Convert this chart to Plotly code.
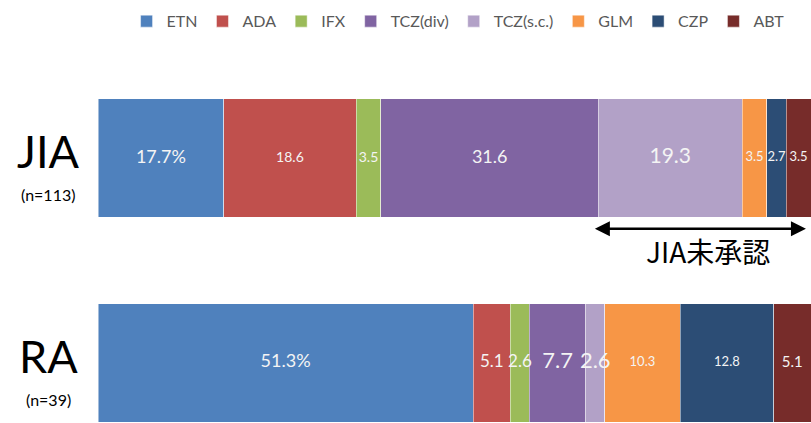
import plotly.graph_objects as go

groups = ["JIA", "RA"]
group_n = ["(n=113)", "(n=39)"]
drugs = ["ETN", "ADA", "IFX", "TCZ(div)", "TCZ(s.c.)", "GLM", "CZP", "ABT"]
# segment widths as drawn (percent of bar)
jia_values = [17.7, 18.6, 3.5, 30.6, 20.2, 3.5, 2.7, 3.5]
ra_values = [51.3, 5.1, 2.6, 7.7, 2.6, 10.3, 12.8, 5.1]
# labels as printed on the chart
jia_labels = ["17.7%", "18.6", "3.5", "31.6", "19.3", "3.5", "2.7", "3.5"]
ra_labels = ["51.3%", "5.1", "2.6", "7.7", "2.6", "10.3", "12.8", "5.1"]
colors = ["#4F81BD", "#C0504D", "#9BBB59", "#8064A2", "#B2A1C7", "#F79646", "#2C4D75", "#772C2A"]
jia_sizes = [18, 14, 14, 18, 21, 13, 13, 13]
ra_sizes = [18, 17, 17, 22, 22, 13, 13, 15]
y_pos = [1, 0]

fig = go.Figure()
for i, d in enumerate(drugs):
    fig.add_trace(go.Bar(
        name=d, orientation="h", y=y_pos, x=[jia_values[i], ra_values[i]],
        marker=dict(color=colors[i], line=dict(color="rgba(255,255,255,0.6)", width=0.8)),
        width=0.58, hoverinfo="skip",
    ))


def centers(vals):
    tot = sum(vals)
    out, acc = [], 0.0
    for v in vals:
        p = v / tot * 100
        out.append(acc + p / 2)
        acc += p
    return out


for vals, labels, sizes, yv in [(jia_values, jia_labels, jia_sizes, 1), (ra_values, ra_labels, ra_sizes, 0)]:
    fig.add_trace(go.Scatter(
        x=centers(vals), y=[yv] * len(vals), mode="text", text=labels,
        textposition="middle center", showlegend=False, hoverinfo="skip", cliponaxis=False,
        textfont=dict(color="#F4F4F4", size=sizes, family="Lato"),
    ))

fig.update_layout(
    barmode="stack", barnorm="percent",
    width=811, height=423, margin=dict(l=98, r=0, t=0, b=0),
    plot_bgcolor="white", paper_bgcolor="white",
    xaxis=dict(range=[0, 100], visible=False),
    yaxis=dict(range=[-0.293, 1.771], visible=False),
    legend=dict(orientation="h", x=0.505, xanchor="center", y=0.99, yanchor="top",
                font=dict(size=16, color="#595959", family="Lato"),
                itemwidth=30, tracegroupgap=0, traceorder="normal"),
    showlegend=True,
)

for yv, g, n in zip(y_pos, groups, group_n):
    fig.add_annotation(text=g, x=-0.07, xref="paper", y=yv + 0.035, yref="y",
                       showarrow=False, xanchor="center", yanchor="middle", borderpad=0,
                       font=dict(size=45, color="black", family="Lato"))
    fig.add_annotation(text=n, x=-0.07, xref="paper", y=yv - 0.178, yref="y",
                       showarrow=False, xanchor="center", yanchor="middle", borderpad=0,
                       font=dict(size=16, color="black", family="Lato"))

# Double-headed arrow for "JIA未承認"
arrow_start = sum(jia_values[:4]) / sum(jia_values) * 100
fig.add_annotation(x=arrow_start - 0.5, y=0.655, ax=99.5, ay=0.655,
                   xref="x", yref="y", axref="x", ayref="y",
                   showarrow=True, arrowhead=2, arrowside="end+start",
                   arrowsize=1.2, arrowwidth=2.5, arrowcolor="black", text="")
fig.add_annotation(text="JIA未承認", x=(arrow_start + 100) / 2 + 0.5, y=0.545, xref="x", yref="y",
                   showarrow=False, xanchor="center", yanchor="middle",
                   font=dict(size=28, color="black", family="Noto Sans CJK JP"))

fig.write_html("out.html")
